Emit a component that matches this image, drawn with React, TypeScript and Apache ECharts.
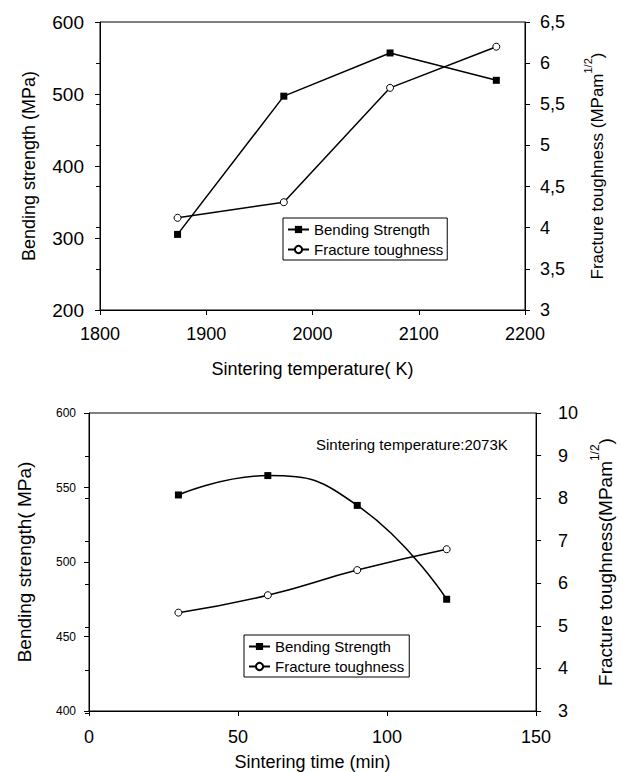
import React, { useEffect, useRef } from 'react';
import * as echarts from 'echarts';

// Top chart: sintering temperature (K)
const tempK = [1873, 1973, 2073, 2173];
const tempBending = [305, 497, 557, 519];
const tempToughness = [4.12, 4.31, 5.7, 6.2];

// Bottom chart: sintering time (min) at 2073 K
const timeMin = [30, 60, 90, 120];
const timeBending = [545, 558, 538, 475];
const timeToughness = [5.31, 5.72, 6.31, 6.8];

const seriesNames = ['Bending Strength', 'Fracture toughness'];
const annotationText = 'Sintering temperature:2073K';

const FONT = '"Liberation Sans", Arial, Helvetica, sans-serif';
const BLACK = '#000';

const pairs = (xs: number[], ys: number[]) => xs.map((x, i) => [x, ys[i]]);
const comma = (v: number) => String(v).replace('.', ',');
const plain = (v: number) => String(v);

export default function App() {
  const ref = useRef<HTMLDivElement>(null);

  useEffect(() => {
    if (!ref.current) return;
    const chart = echarts.init(ref.current, undefined, { renderer: 'svg' });

    const axisLine = { show: true, onZero: false, lineStyle: { color: BLACK, width: 1 } };
    const axisTick = { show: true, inside: false, length: 5, lineStyle: { color: BLACK, width: 1 } };
    const innerTick = { show: true, inside: true, length: 4, lineStyle: { color: BLACK, width: 1 } };
    const noSplit = { show: false };
    const label = (fontSize: number, margin: number, extra: any = {}) => ({
      fontSize, margin, color: BLACK, fontFamily: FONT, formatter: plain, ...extra,
    });
    const nameStyle = (fontSize: number) => ({ fontSize, color: BLACK, fontFamily: FONT });
    const supName = (fontSize: number, lh: number, supSize: number) => ({
      color: BLACK,
      fontFamily: FONT,
      fontSize,
      rich: {
        a: { fontSize, lineHeight: lh, verticalAlign: 'bottom', color: BLACK, fontFamily: FONT },
        s: { fontSize: supSize, lineHeight: supSize, verticalAlign: 'top', color: BLACK, fontFamily: FONT },
      },
    });

    const lineStyle = { color: BLACK, width: 1.5 };
    const squareStyle = { color: BLACK, borderColor: BLACK, borderWidth: 0 };
    const circleStyle = { color: '#fff', borderColor: BLACK, borderWidth: 1 };

    const legendBase = {
      data: seriesNames,
      orient: 'vertical',
      itemGap: 5,
      itemWidth: 21,
      itemHeight: 9,
      borderColor: BLACK,
      borderWidth: 1,
      backgroundColor: '#fff',
      selectedMode: false,
      textStyle: { fontSize: 15, color: BLACK, fontFamily: FONT },
    };

    const rectTop = { left: 100, top: 22, width: 425, height: 288 };
    const rectBottom = { left: 89, top: 413, width: 461, height: 300 };

    // overlay grids that only add inward tick marks on the right axes
    const hiddenX = (gridIndex: number) => ({ gridIndex, type: 'value', min: 0, max: 1, show: false });
    const innerTickAxis = (gridIndex: number, min: number, max: number, interval: number) => ({
      gridIndex, type: 'value', position: 'right', min, max, interval,
      axisLine: { show: false }, axisTick: innerTick, axisLabel: { show: false },
      splitLine: noSplit,
    });

    chart.setOption({
      animation: false,
      backgroundColor: '#fff',
      textStyle: { fontFamily: FONT },
      grid: [
        { ...rectTop, show: true, borderColor: BLACK, borderWidth: 1, backgroundColor: 'transparent' },
        { ...rectBottom, show: true, borderColor: BLACK, borderWidth: 1, backgroundColor: 'transparent' },
        { ...rectTop, show: false },
        { ...rectBottom, show: false },
      ],
      xAxis: [
        {
          gridIndex: 0, type: 'value', min: 1800, max: 2200, interval: 100,
          axisLine, axisTick, splitLine: noSplit,
          axisLabel: label(18, 15),
          name: 'Sintering temperature( K)', nameLocation: 'middle', nameGap: 50,
          nameTextStyle: nameStyle(18),
        },
        {
          gridIndex: 1, type: 'value', min: 0, max: 150, interval: 50,
          axisLine, axisTick, splitLine: noSplit,
          axisLabel: label(18, 17),
          name: 'Sintering time (min)', nameLocation: 'middle', nameGap: 42,
          nameTextStyle: nameStyle(18),
        },
        hiddenX(2),
        hiddenX(3),
      ],
      yAxis: [
        {
          gridIndex: 0, type: 'value', position: 'left', min: 200, max: 600, interval: 100,
          axisLine, axisTick, splitLine: noSplit,
          axisLabel: label(19, 16),
          name: 'Bending strength (MPa)', nameLocation: 'middle', nameRotate: 90, nameGap: 62,
          nameTextStyle: nameStyle(18),
        },
        {
          gridIndex: 0, type: 'value', position: 'right', min: 3, max: 6.5, interval: 0.5,
          axisLine, axisTick, splitLine: noSplit,
          axisLabel: label(18, 15, { formatter: comma }),
          name: '{a|Fracture toughness (MPam}{s|1/2}{a|)}', nameLocation: 'middle', nameRotate: 90, nameGap: 57,
          nameTextStyle: supName(17, 24, 11),
        },
        {
          gridIndex: 1, type: 'value', position: 'left', min: 400, max: 600, interval: 50,
          axisLine, axisTick, splitLine: noSplit,
          axisLabel: label(12, 13),
          name: 'Bending strength( MPa)', nameLocation: 'middle', nameRotate: 90, nameGap: 55,
          nameTextStyle: nameStyle(19),
        },
        {
          gridIndex: 1, type: 'value', position: 'right', min: 3, max: 10, interval: 1,
          axisLine, axisTick, splitLine: noSplit,
          axisLabel: label(18, 22),
          name: '{a|Fracture toughness(MPam}{s|1/2}{a|)}', nameLocation: 'middle', nameRotate: 90, nameGap: 46,
          nameTextStyle: supName(19, 26, 12),
        },
        innerTickAxis(2, 3, 6.5, 0.5),
        innerTickAxis(3, 3, 10, 1),
      ],
      legend: [
        { ...legendBase, left: 283, top: 218, padding: [4, 4, 3, 4] },
        { ...legendBase, left: 244, top: 635, padding: [4, 5, 3, 4] },
      ],
      graphic: [
        {
          type: 'text', left: 316, top: 437,
          style: { text: annotationText, fontSize: 15, fill: BLACK, fontFamily: FONT },
        },
      ],
      series: [
        {
          name: seriesNames[0], type: 'line', xAxisIndex: 0, yAxisIndex: 0,
          data: pairs(tempK, tempBending),
          symbol: 'rect', symbolSize: 7, lineStyle, itemStyle: squareStyle,
        },
        {
          name: seriesNames[1], type: 'line', xAxisIndex: 0, yAxisIndex: 1,
          data: pairs(tempK, tempToughness),
          symbol: 'circle', symbolSize: 7, lineStyle, itemStyle: circleStyle,
        },
        {
          name: seriesNames[0], type: 'line', xAxisIndex: 1, yAxisIndex: 2,
          data: pairs(timeMin, timeBending), smooth: 0.5,
          symbol: 'rect', symbolSize: 7, lineStyle, itemStyle: squareStyle,
        },
        {
          name: seriesNames[1], type: 'line', xAxisIndex: 1, yAxisIndex: 3,
          data: pairs(timeMin, timeToughness), smooth: 0.5,
          symbol: 'circle', symbolSize: 7, lineStyle, itemStyle: circleStyle,
        },
      ],
    });

    return () => chart.dispose();
  }, []);

  return (
    <div
      ref={ref}
      style={{ position: 'fixed', left: 0, top: 0, width: 623, height: 772, background: '#fff' }}
    />
  );
}
